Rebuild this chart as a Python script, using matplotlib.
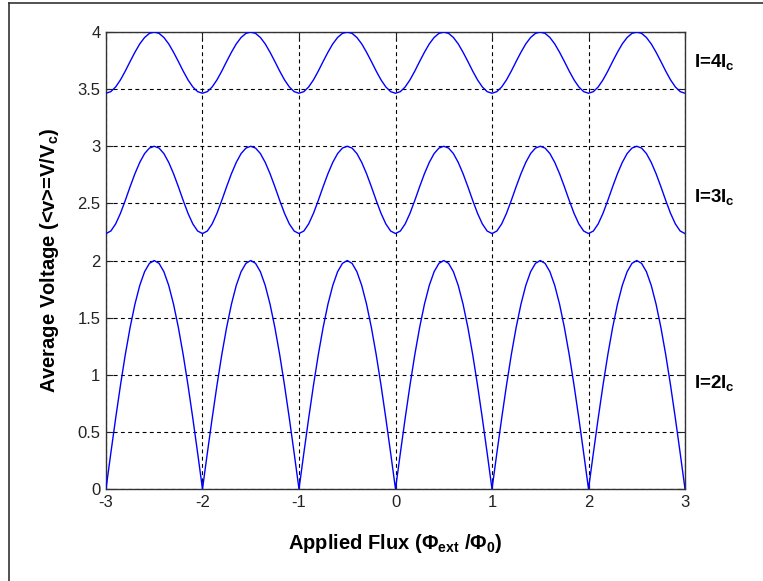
import numpy as np
import matplotlib
matplotlib.use("Agg")
import matplotlib.pyplot as plt
from matplotlib.lines import Line2D

plt.rcParams['font.family'] = ['Liberation Sans', 'DejaVu Sans']
plt.rcParams['mathtext.fontset'] = 'custom'
plt.rcParams['mathtext.rm'] = 'Liberation Sans:bold'
plt.rcParams['mathtext.it'] = 'Liberation Sans:bold'
plt.rcParams['mathtext.bf'] = 'Liberation Sans:bold'

# flux within one period (0..1 step 0.05), the curves repeat every flux quantum
phase_one_period = [0.00, 0.05, 0.10, 0.15, 0.20, 0.25, 0.30, 0.35, 0.40, 0.45, 0.50,
                    0.55, 0.60, 0.65, 0.70, 0.75, 0.80, 0.85, 0.90, 0.95]
v_I2 = [0.000, 0.313, 0.618, 0.908, 1.176, 1.414, 1.618, 1.782, 1.902, 1.975, 2.000,
        1.975, 1.902, 1.782, 1.618, 1.414, 1.176, 0.908, 0.618, 0.313]
v_I3 = [2.236, 2.258, 2.320, 2.413, 2.526, 2.646, 2.760, 2.859, 2.936, 2.984, 3.000,
        2.984, 2.936, 2.859, 2.760, 2.646, 2.526, 2.413, 2.320, 2.258]
v_I4 = [3.464, 3.478, 3.519, 3.581, 3.658, 3.742, 3.823, 3.896, 3.952, 3.988, 4.000,
        3.988, 3.952, 3.896, 3.823, 3.742, 3.658, 3.581, 3.519, 3.478]
period_starts = [-3, -2, -1, 0, 1, 2]
curve_labels = ['I=2I$\\mathrm{_c}$', 'I=3I$\\mathrm{_c}$', 'I=4I$\\mathrm{_c}$']
label_y = [0.93, 2.56, 3.74]
xticks = [-3, -2, -1, 0, 1, 2, 3]
yticks = [0, 0.5, 1, 1.5, 2, 2.5, 3, 3.5, 4]


def full_series(vals):
    xs, ys = [], []
    for s in period_starts:
        xs += [s + p for p in phase_one_period]
        ys += list(vals)
    xs.append(period_starts[-1] + 1)
    ys.append(vals[0])
    return np.array(xs), np.array(ys)


fig = plt.figure(figsize=(7.63, 5.81), dpi=100)
ax = fig.add_axes([0.1389, 0.1583, 0.7589, 0.7866])

for vals in (v_I2, v_I3, v_I4):
    x, y = full_series(vals)
    ax.plot(x, y, color='#0000ff', lw=1.0, zorder=3)

ax.set_xlim(-3, 3)
ax.set_ylim(0, 4)
ax.set_xticks(xticks)
ax.set_yticks(yticks)
ax.set_xticklabels([str(t) for t in xticks])
ax.set_yticklabels(['0', '0.5', '1', '1.5', '2', '2.5', '3', '3.5', '4'])
ax.grid(True, color='black', linestyle=(0, (3.5, 3)), linewidth=0.8)
ax.tick_params(direction='in', length=5, top=True, right=True,
               labelsize=12, colors='#222222', pad=4)
for sp in ax.spines.values():
    sp.set_color('#333333')
    sp.set_linewidth(1.0)

ax.set_xlabel('Applied Flux ($\\Phi_{\\mathrm{ext}}$ /$\\Phi_{\\mathrm{0}}$)', fontsize=14.5,
              fontweight='bold', labelpad=16)
ax.set_ylabel('Average Voltage (<v>=V/V$\\mathrm{_c}$)', fontsize=14.5,
              fontweight='bold', labelpad=12)

for lab, yy in zip(curve_labels, label_y):
    ax.text(3.09, yy, lab, fontsize=13.5, fontweight='bold', va='center', ha='left',
            clip_on=False)

# figure frame (top and left edges)
fig.add_artist(Line2D([9 / 763, 1.0], [1 - 3 / 581, 1 - 3 / 581],
                      transform=fig.transFigure, color='#333333', lw=1.2))
fig.add_artist(Line2D([9 / 763, 9 / 763], [0, 1 - 3 / 581],
                      transform=fig.transFigure, color='#333333', lw=1.2))

fig.savefig('out.png', dpi=100)
